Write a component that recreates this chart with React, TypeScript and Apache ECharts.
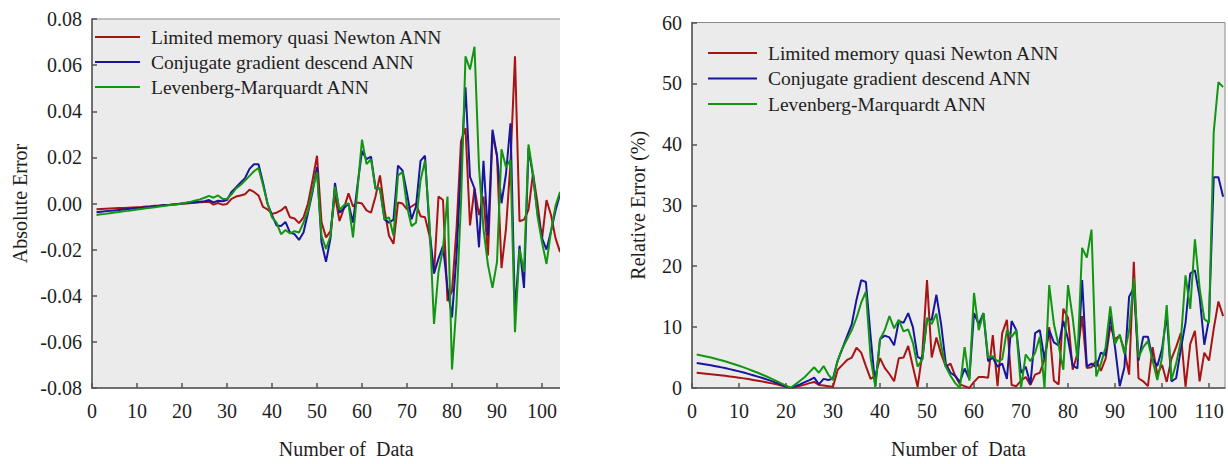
import React, { useEffect, useRef } from "react";
import * as echarts from "echarts";

const seriesNames = [
  "Limited memory quasi Newton ANN",
  "Conjugate gradient descend ANN",
  "Levenberg-Marquardt ANN",
];
const seriesColors = ["#a81414", "#16169e", "#129612"];

// Absolute error, data 1..105 (panel is cut off on the right)
const absRed = [
  -0.0025, -0.0024, -0.0023, -0.0022, -0.0021, -0.002, -0.0019, -0.0018, -0.0017, -0.0016,
  -0.0015, -0.0013, -0.0012, -0.001, -0.0009, -0.0007, -0.0006, -0.0004, -0.0003, -0.0001,
  0.0, 0.0002, 0.0003, 0.0005, 0.0006, 0.0008, -0.0005, 0.0002, -0.0005, -0.0002,
  0.002, 0.003, 0.0035, 0.004, 0.006, 0.005, 0.0035, -0.0015, -0.0025, -0.0045,
  -0.004, -0.003, -0.0013, -0.006, -0.0065, -0.0085, -0.006, 0.0, 0.01, 0.0207,
  -0.008, -0.0147, -0.012, 0.0037, -0.0076, -0.002, 0.0044, -0.0013, 0.0004, 0.0,
  -0.003, -0.004, 0.003, 0.0122, -0.0027, -0.014, -0.0175, 0.0004, 0.0, -0.0025,
  -0.0013, 0.0, -0.0055, -0.006, -0.014, -0.0303, 0.003, 0.0015, -0.0423, -0.038,
  -0.0112, 0.027, 0.0327, -0.0095, 0.0065, -0.005, 0.003, -0.0225, 0.03, 0.0207,
  -0.028, -0.011, 0.018, 0.0638, -0.0077, -0.007, -0.0027, 0.013, 0.0, -0.0155,
  0.0015, -0.005, -0.015, -0.021, -0.012,
];
const absBlue = [
  -0.0038, -0.0036, -0.0034, -0.0032, -0.003, -0.0028, -0.0026, -0.0024, -0.0022, -0.002,
  -0.0018, -0.0016, -0.0014, -0.0012, -0.001, -0.0008, -0.0006, -0.0004, -0.0002, 0.0,
  0.0002, 0.0004, 0.0006, 0.0008, 0.001, 0.0015, 0.0005, 0.0012, 0.001, 0.0015,
  0.005, 0.007, 0.009, 0.011, 0.015, 0.017, 0.017, 0.009, 0.0, -0.005,
  -0.0095, -0.0098, -0.008, -0.0126, -0.0133, -0.0158, -0.0126, -0.004, 0.005, 0.0157,
  -0.0168, -0.0253, -0.015, 0.0089, -0.004, -0.002, 0.0, -0.0083, 0.008, 0.0228,
  0.0192, 0.0203, 0.0065, 0.0065, -0.0069, -0.0083, -0.007, 0.0164, 0.0143, 0.0044,
  -0.0069, -0.0013, 0.0185, 0.0207, -0.0112, -0.0303, -0.0239, -0.0183, -0.0366, -0.0494,
  -0.0225, 0.0157, 0.0504, 0.0115, 0.0065, -0.019, 0.0185, -0.014, 0.032, 0.0207,
  0.0001, 0.0129, 0.0348, -0.048, -0.0183, -0.0366, 0.024, 0.012, -0.004, -0.015,
  -0.02, -0.012, -0.003, 0.004, 0.0,
];
const absGreen = [
  -0.005, -0.0047, -0.0045, -0.0042, -0.0039, -0.0037, -0.0034, -0.0032, -0.0029, -0.0026,
  -0.0024, -0.0021, -0.0018, -0.0016, -0.0013, -0.0011, -0.0008, -0.0005, -0.0003, 0.0,
  0.0004, 0.0008, 0.0013, 0.0018, 0.0025, 0.0033, 0.0025, 0.0035, 0.002, 0.002,
  0.004, 0.0065, 0.008, 0.01, 0.012, 0.014, 0.0154, 0.008, 0.0, -0.006,
  -0.0083, -0.0133, -0.0115, -0.013, -0.012, -0.0126, -0.0083, -0.003, 0.006, 0.0136,
  -0.014, -0.0197, -0.014, 0.0072, -0.0027, -0.0007, 0.0, -0.0147, 0.006, 0.0277,
  0.0171, 0.0192, 0.0065, 0.0065, -0.0069, -0.006, -0.014, 0.0122, 0.0136, -0.0013,
  -0.0098, -0.0083, 0.01, 0.0185, -0.0083, -0.0522, -0.0296, -0.0197, 0.003, -0.072,
  -0.0437, 0.0001, 0.0638, 0.0581, 0.068, 0.0157, -0.0112, -0.0267, -0.0366, -0.0253,
  0.0235, 0.0157, 0.019, -0.0558, -0.0197, -0.0296, 0.0256, 0.0129, -0.0055, -0.0168,
  -0.0262, -0.012, -0.001, 0.005, 0.0,
];

// Relative error (%), data 1..113
const relRed = [
  2.5, 2.43, 2.35, 2.27, 2.19, 2.1, 2.0, 1.9, 1.8, 1.7,
  1.58, 1.46, 1.33, 1.2, 1.06, 0.91, 0.76, 0.6, 0.42, 0.22,
  0.02, 0.15, 0.35, 0.55, 0.8, 1.0, 0.5, 0.4, 0.3, 0.2,
  3.0, 3.8, 4.6, 5.0, 6.6, 5.8, 3.6, 1.5, 2.0, 4.9,
  3.3, 2.3, 1.1, 4.9, 5.0, 6.9, 3.5, 0.2, 5.6, 17.7,
  5.0, 8.3, 5.6, 3.5, 4.0, 2.0, 0.6, 0.3, 0.0, 1.0,
  1.8, 1.8, 1.7, 8.7, 0.3, 9.0, 11.2, 0.5, 0.3, 1.2,
  1.8, 0.5, 2.2, 2.5, 4.7, 10.0, 1.2, 0.6, 13.0, 11.5,
  3.0, 5.6, 11.8, 3.3, 3.4, 4.5, 2.8, 4.8, 10.2, 8.0,
  8.6, 6.2, 2.2, 20.7, 1.6, 1.1, 0.3, 6.7, 2.2, 3.8,
  1.0, 4.8, 6.7, 9.0, 0.2, 7.2, 9.4, 1.1, 5.8, 4.5,
  9.7, 14.2, 11.8,
];
const relBlue = [
  4.1, 3.98, 3.85, 3.72, 3.58, 3.43, 3.27, 3.1, 2.92, 2.73,
  2.53, 2.32, 2.1, 1.87, 1.63, 1.38, 1.12, 0.85, 0.57, 0.29,
  0.02, 0.3, 0.6, 0.95, 1.3, 1.7, 0.6, 1.5, 1.3, 1.6,
  4.5, 6.5, 8.5, 10.5, 14.5, 17.7, 17.4, 8.5, 0.3, 8.0,
  8.6, 8.3, 7.0, 11.0, 10.7, 12.3, 10.0, 5.1, 4.7, 11.2,
  11.2, 15.3, 10.5, 4.0, 2.5, 2.0, 1.0, 3.2, 1.5, 12.3,
  10.5, 12.3, 4.4, 5.0, 3.5, 4.0, 1.5, 11.0, 9.5, 2.5,
  3.5, 0.6, 9.0, 9.5, 4.7, 9.5, 7.5, 7.0, 11.0, 8.0,
  3.7, 3.2, 17.7, 3.5, 4.0, 3.4, 5.8, 5.4, 11.8, 6.7,
  0.3, 3.4, 15.0, 16.4, 4.5, 8.4, 8.4, 4.8, 3.6, 6.4,
  12.0, 1.1, 1.6, 6.4, 10.7, 18.8, 19.3, 15.0, 7.1, 11.4,
  34.6, 34.6, 31.4,
];
const relGreen = [
  5.5, 5.35, 5.18, 5.0, 4.8, 4.6, 4.38, 4.15, 3.9, 3.65,
  3.38, 3.1, 2.8, 2.5, 2.18, 1.85, 1.5, 1.14, 0.77, 0.39,
  0.02, 0.6, 1.2, 1.8, 2.6, 3.4, 2.5, 3.6, 2.2, 1.3,
  4.5, 6.5, 8.0, 9.5, 11.5, 14.0, 15.8, 5.0, 0.2, 8.0,
  9.5, 11.8, 9.8, 11.2, 9.3, 9.6, 7.4, 3.5, 4.7, 11.5,
  10.5, 12.2, 7.0, 3.5, 2.0, 0.8, 0.0, 6.7, 1.2, 15.6,
  9.5, 12.3, 5.0, 5.2, 4.4, 4.7, 9.5, 8.4, 9.5, 0.0,
  5.5, 4.4, 5.8, 8.4, 0.0, 16.9, 10.5, 7.0, 3.0, 16.9,
  11.5, 4.7, 23.0, 21.4, 26.0, 1.9, 4.0, 6.7, 13.4, 7.2,
  8.8, 5.6, 9.4, 18.0, 5.0, 6.7, 7.7, 4.5, 1.3, 5.0,
  13.6, 1.3, 4.0, 7.7, 18.5, 13.0, 24.4, 16.4, 11.3, 10.7,
  42.0, 50.2, 49.4,
];

const FONT = "'Liberation Serif', 'Times New Roman', serif";
const TEXT = "#1e1e1e";

const toPairs = (arr: number[]) => arr.map((v, i) => [i + 1, v]);

function axisX(gridIndex: number, max: number) {
  return {
    gridIndex,
    type: "value",
    min: 0,
    max,
    interval: 10,
    name: "Number of  Data",
    nameLocation: "middle",
    nameGap: 51,
    nameTextStyle: { fontFamily: FONT, fontSize: 20, color: TEXT },
    axisLine: { show: true, onZero: false, lineStyle: { color: "#555", width: 1.5 } },
    axisTick: { show: true, inside: true, length: 5, lineStyle: { color: "#555", width: 1.5 } },
    axisLabel: { fontFamily: FONT, fontSize: 20, color: TEXT, margin: 13, showMaxLabel: false },
    splitLine: { show: false },
  };
}

function makeLegend(left: number, top: number, itemWidth: number, gap: number, pad: number) {
  return {
    data: seriesNames,
    orient: "vertical",
    left,
    top,
    padding: 0,
    icon: "rect",
    itemWidth,
    itemHeight: 2,
    itemGap: gap,
    selectedMode: false,
    textStyle: { fontFamily: FONT, fontSize: 19.5, color: TEXT, padding: [0, 0, 0, pad], lineHeight: 20 },
  };
}

export default function App() {
  const ref = useRef<HTMLDivElement>(null);
  useEffect(() => {
    const chart = echarts.init(ref.current!, null, { renderer: "svg" });
    const absData = [absRed, absBlue, absGreen];
    const relData = [relRed, relBlue, relGreen];
    const series: any[] = [];
    absData.forEach((d, i) =>
      series.push({
        type: "line",
        name: seriesNames[i],
        xAxisIndex: 0,
        yAxisIndex: 0,
        data: toPairs(d),
        symbol: "none",
        color: seriesColors[i],
        lineStyle: { width: 2, color: seriesColors[i] },
      })
    );
    relData.forEach((d, i) =>
      series.push({
        type: "line",
        name: seriesNames[i],
        xAxisIndex: 1,
        yAxisIndex: 1,
        data: toPairs(d),
        symbol: "none",
        color: seriesColors[i],
        lineStyle: { width: 2, color: seriesColors[i] },
      })
    );
    chart.setOption({
      animation: false,
      backgroundColor: "#ffffff",
      grid: [
        { left: 92, top: 19, width: 508.5, height: 376, show: true, backgroundColor: "#ebebeb", borderColor: "#8a8a8a", borderWidth: 1 },
        { left: 692, top: 22.5, width: 533, height: 372.5, show: true, backgroundColor: "#ebebeb", borderColor: "#8a8a8a", borderWidth: 1 },
      ],
      xAxis: [axisX(0, 113), axisX(1, 113.4)],
      yAxis: [
        {
          gridIndex: 0,
          type: "value",
          min: -0.08,
          max: 0.08,
          interval: 0.02,
          name: "Absolute Error",
          nameLocation: "middle",
          nameGap: 62,
          nameTextStyle: { fontFamily: FONT, fontSize: 20, color: TEXT },
          axisLine: { show: true, onZero: false, lineStyle: { color: "#555", width: 1.5 } },
          axisTick: { show: true, inside: true, length: 5, lineStyle: { color: "#555", width: 1.5 } },
          axisLabel: {
            fontFamily: FONT,
            fontSize: 20,
            color: TEXT,
            margin: 10,
            formatter: (v: number) => (Math.abs(v) < 1e-9 ? "0.00" : v.toFixed(2)),
          },
          splitLine: { show: false },
        },
        {
          gridIndex: 1,
          type: "value",
          min: 0,
          max: 60,
          interval: 10,
          name: "Relative Error (%)",
          nameLocation: "middle",
          nameGap: 44,
          nameTextStyle: { fontFamily: FONT, fontSize: 20, color: TEXT },
          axisLine: { show: true, onZero: false, lineStyle: { color: "#555", width: 1.5 } },
          axisTick: { show: true, inside: true, length: 5, lineStyle: { color: "#555", width: 1.5 } },
          axisLabel: { fontFamily: FONT, fontSize: 20, color: TEXT, margin: 10 },
          splitLine: { show: false },
        },
      ],
      legend: [makeLegend(95, 27, 45, 5, 6), makeLegend(708, 43, 49, 5.5, 6)],
      graphic: [
        { type: "rect", z: 100, shape: { x: 560, y: 0, width: 68, height: 464 }, style: { fill: "#ffffff" } },
      ],
      series,
    });
    return () => chart.dispose();
  }, []);
  return (
    <div
      ref={ref}
      style={{ position: "absolute", left: 0, top: 0, width: 1228, height: 464, background: "#fff" }}
    />
  );
}
